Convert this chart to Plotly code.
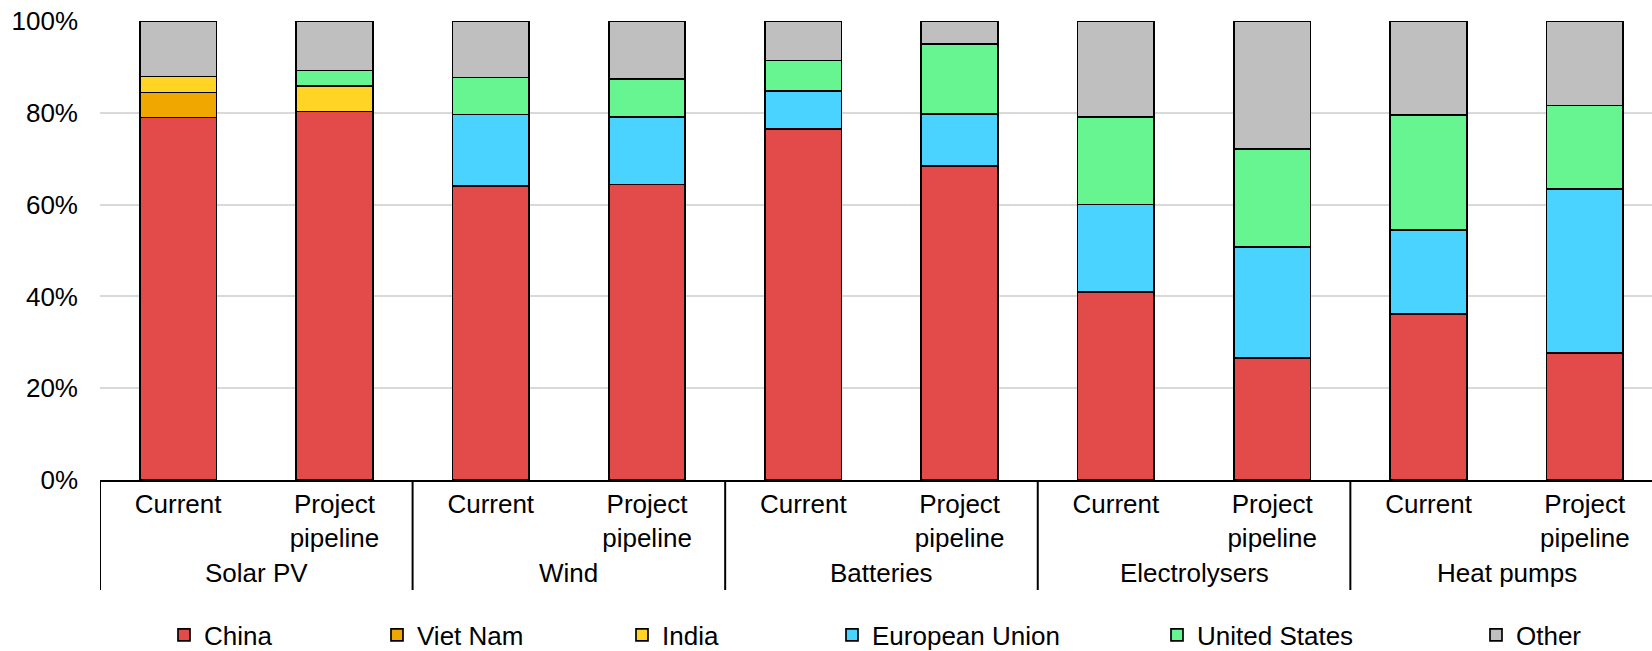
import plotly.graph_objects as go

# ---- data (shares, %) ----
technologies = ["Solar PV", "Wind", "Batteries", "Electrolysers", "Heat pumps"]
stages = ["Current", "Project<br>pipeline"]

china          = [79.0, 80.3, 64.1, 64.4, 76.5, 68.4, 40.9, 26.6, 36.1, 27.6]
viet_nam       = [5.4, 0.0, 0, 0, 0, 0, 0, 0, 0, 0]
india          = [3.5, 5.5, 0, 0, 0, 0, 0, 0, 0, 0]
european_union = [0, 0, 15.5, 14.7, 8.3, 11.4, 19.1, 24.1, 18.3, 35.8]
united_states  = [0, 3.4, 8.1, 8.3, 6.6, 15.2, 19.1, 21.4, 25.1, 18.2]
other          = [12.1, 10.8, 12.3, 12.6, 8.6, 5.0, 20.9, 27.9, 20.5, 18.4]

series_names = ["China", "Viet Nam", "India", "European Union", "United States", "Other"]
series_values = [china, viet_nam, india, european_union, united_states, other]
colors = ["#E34B4A", "#F0A800", "#FFD424", "#4BD3FF", "#67F591", "#BFBFBF"]

categories = [f"{t}|{s}" for t in technologies for s in stages]
tick_text = [s for t in technologies for s in stages]

FONT = "Liberation Sans, Arial, sans-serif"
W, H = 1652, 651
ML, MR, MT, MB = 100, 0, 21, 171
plot_w = W - ML - MR

fig = go.Figure()
legend_px = [164, 377, 622, 832, 1157, 1476]  # left edge of each legend item (px)
for i, (name, vals, col) in enumerate(zip(series_names, series_values, colors)):
    lname = "legend" if i == 0 else f"legend{i+1}"
    fig.add_trace(go.Bar(
        x=categories, y=[v / 100 for v in vals], name=name,
        marker=dict(color=col, line=dict(color="black", width=1.7)),
        legend=lname,
    ))
    fig.update_layout(**{lname: dict(
        orientation="h", x=legend_px[i] / W, xref="container", xanchor="left",
        y=(H - 635) / H, yref="container", yanchor="middle",
        font=dict(size=26, color="black", family=FONT),
        bgcolor="rgba(0,0,0,0)", itemclick=False, itemdoubleclick=False,
    )})

fig.update_layout(
    width=W, height=H,
    margin=dict(l=ML, r=MR, t=MT, b=MB),
    barmode="stack", bargap=0.51,
    plot_bgcolor="white", paper_bgcolor="white",
    font=dict(family=FONT, size=26, color="black"),
    showlegend=True,
)
fig.update_xaxes(
    type="category", categoryorder="array", categoryarray=categories,
    tickvals=categories, ticktext=tick_text,
    range=[-0.5, 9.43], showline=True, linecolor="black", linewidth=2,
    ticks="", showgrid=False, ticklabelstandoff=0,
    tickfont=dict(size=26, family=FONT, color="black"),
)
fig.update_yaxes(
    range=[0, 1], tickformat=".0%", dtick=0.2, showgrid=True,
    gridcolor="#D9D9D9", gridwidth=2, zeroline=False, showline=False,
    ticks="", ticklabelstandoff=21,
    tickfont=dict(size=26, family=FONT, color="black"),
)

# group labels and dividers on the category axis
ph = H - MT - MB
for gi, t in enumerate(technologies):
    fig.add_annotation(x=gi * 2 + 0.5, xref="x", y=(480 - 573) / ph, yref="paper",
                       text=t, showarrow=False, yanchor="middle",
                       font=dict(size=26, family=FONT, color="black"))
for b in range(len(technologies)):
    fig.add_shape(type="line", xref="x", yref="paper", x0=b * 2 - 0.5, x1=b * 2 - 0.5,
                  y0=0, y1=(480 - 590) / ph, line=dict(color="black", width=2))

fig.write_html("out.html", config={"displayModeBar": False},
               post_script="document.body.style.margin='0';")
